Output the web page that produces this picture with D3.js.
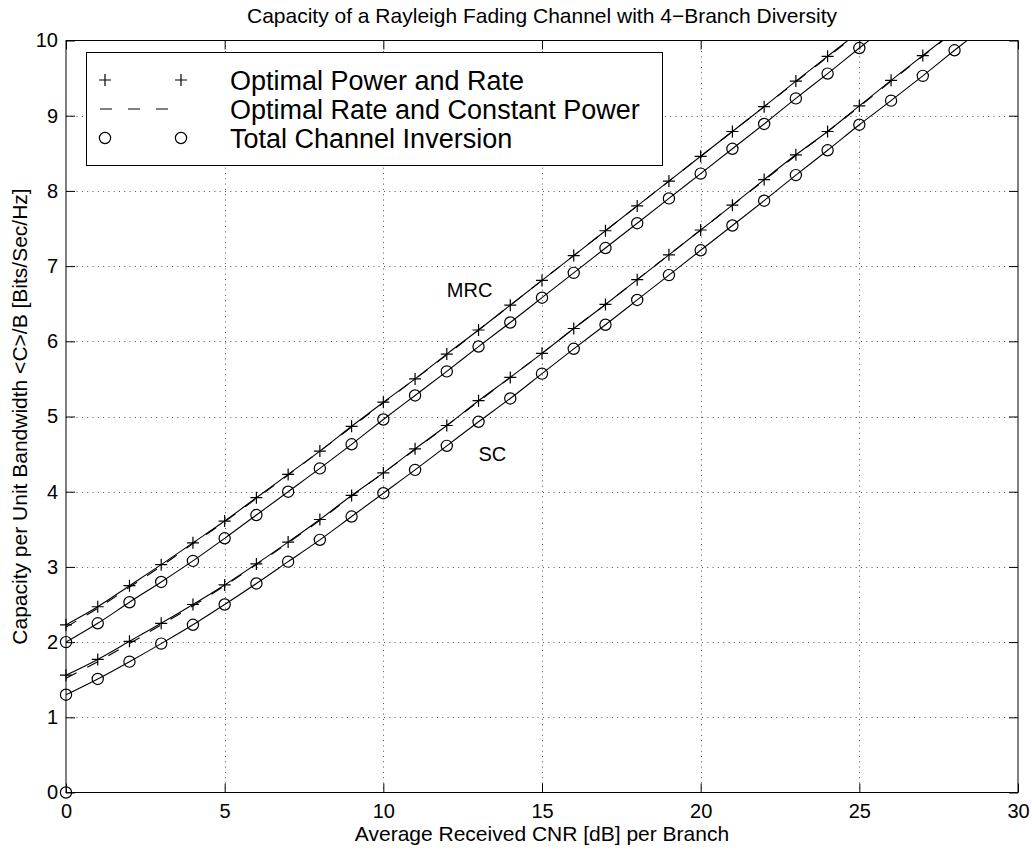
<!DOCTYPE html>
<html>
<head>
<meta charset="utf-8">
<script src="https://cdn.jsdelivr.net/npm/d3@7"></script>
<style>
  html, body { margin: 0; padding: 0; background: #fff; }
  svg { display: block; }
  text { font-family: "Liberation Sans", Arial, Helvetica, sans-serif; fill: #000; }
</style>
</head>
<body>
<svg id="chart" width="1032" height="852"></svg>
<script>
// ---------------- DATA ----------------
const chartTitle = "Capacity of a Rayleigh Fading Channel with 4\u2212Branch Diversity";
const xLabel = "Average Received CNR [dB] per Branch";
const yLabel = "Capacity per Unit Bandwidth <C>/B [Bits/Sec/Hz]";
const xTicks = [0, 5, 10, 15, 20, 25, 30];
const yTicks = [0, 1, 2, 3, 4, 5, 6, 7, 8, 9, 10];
const legendLabels = ["Optimal Power and Rate", "Optimal Rate and Constant Power", "Total Channel Inversion"];

// MRC: x = 0..26 dB
const mrcX = [0,1,2,3,4,5,6,7,8,9,10,11,12,13,14,15,16,17,18,19,20,21,22,23,24,25,26];
const mrcOptPowerRate = [2.23,2.47,2.75,3.03,3.32,3.61,3.92,4.23,4.54,4.87,5.19,5.50,5.83,6.15,6.48,6.81,7.14,7.47,7.80,8.13,8.46,8.79,9.12,9.46,9.79,10.12,10.45];
const mrcOptRateConst = [2.20,2.45,2.73,3.01,3.31,3.60,3.91,4.22,4.54,4.86,5.18,5.50,5.82,6.15,6.48,6.81,7.14,7.47,7.80,8.13,8.46,8.79,9.12,9.45,9.78,10.11,10.44];
const mrcInversion = [2.00,2.25,2.53,2.80,3.08,3.38,3.69,4.00,4.31,4.63,4.96,5.28,5.60,5.93,6.25,6.58,6.91,7.24,7.57,7.90,8.23,8.56,8.89,9.23,9.56,9.90,10.23];

// SC: x = 0..29 dB
const scX = [0,1,2,3,4,5,6,7,8,9,10,11,12,13,14,15,16,17,18,19,20,21,22,23,24,25,26,27,28,29];
const scOptPowerRate = [1.56,1.77,2.01,2.25,2.50,2.76,3.04,3.33,3.63,3.95,4.25,4.57,4.88,5.21,5.52,5.84,6.17,6.49,6.82,7.15,7.48,7.81,8.15,8.48,8.79,9.13,9.47,9.80,10.13,10.46];
const scOptRateConst = [1.52,1.74,1.98,2.23,2.48,2.75,3.03,3.32,3.62,3.94,4.25,4.56,4.88,5.20,5.52,5.84,6.17,6.49,6.82,7.15,7.48,7.81,8.14,8.47,8.79,9.12,9.46,9.79,10.12,10.45];
const scInversion = [1.30,1.51,1.74,1.98,2.23,2.50,2.78,3.07,3.36,3.67,3.98,4.29,4.61,4.93,5.24,5.57,5.90,6.22,6.55,6.88,7.21,7.54,7.87,8.21,8.54,8.88,9.20,9.53,9.87,10.20];

// stray marker at the origin
const extraCircleX = [0];
const extraCircleY = [0];

// annotations
const annoText = ["MRC", "SC"];
const annoX = [12.0, 13.0];
const annoY = [6.59, 4.41];

// ---------------- LAYOUT ----------------
const svg = d3.select("#chart");
const L = 66, R = 1018, T = 40.5, B = 792.5;
const x = d3.scaleLinear().domain([0, 30]).range([L, R]);
const y = d3.scaleLinear().domain([0, 10]).range([B, T]);

svg.append("rect").attr("width", 1032).attr("height", 852).attr("fill", "#fff");

svg.append("defs").append("clipPath").attr("id", "plotclip")
  .append("rect").attr("x", L).attr("y", T).attr("width", R - L).attr("height", B - T);

// grid
const grid = svg.append("g").attr("stroke", "#555").attr("stroke-width", 1).attr("stroke-dasharray", "1,4.3");
grid.selectAll(".gx").data(xTicks.filter(d => d > 0 && d < 30)).enter().append("line")
  .attr("x1", d => Math.round(x(d)) + 0.5).attr("x2", d => Math.round(x(d)) + 0.5)
  .attr("y1", T).attr("y2", B);
grid.selectAll(".gy").data(yTicks.filter(d => d > 0 && d < 10)).enter().append("line")
  .attr("y1", d => Math.round(y(d)) + 0.5).attr("y2", d => Math.round(y(d)) + 0.5)
  .attr("x1", L).attr("x2", R);

// axes via d3 axis generators
const tickLen = 9;
const fmt = d3.format("d");
const xAxis = svg.append("g").attr("transform", `translate(0,${B})`)
  .call(d3.axisBottom(x).tickValues(xTicks).tickSize(-tickLen).tickPadding(11).tickFormat(fmt));
const xAxisTop = svg.append("g").attr("transform", `translate(0,${T})`)
  .call(d3.axisTop(x).tickValues(xTicks).tickSize(-tickLen).tickFormat(""));
const yAxis = svg.append("g").attr("transform", `translate(${L},0)`)
  .call(d3.axisLeft(y).tickValues(yTicks).tickSize(-tickLen).tickPadding(8).tickFormat(fmt));
const yAxisR = svg.append("g").attr("transform", `translate(${R},0)`)
  .call(d3.axisRight(y).tickValues(yTicks).tickSize(-tickLen).tickFormat(""));
[xAxis, xAxisTop, yAxis, yAxisR].forEach(g => {
  g.selectAll(".domain").remove();
  g.selectAll("line").attr("stroke", "#000").attr("stroke-width", 1);
  g.selectAll("text").attr("font-size", 20).attr("font-family", '"Liberation Sans", Arial, sans-serif').attr("fill", "#000");
});

// box
svg.append("rect").attr("x", L).attr("y", T).attr("width", R - L).attr("height", B - T)
  .attr("fill", "none").attr("stroke", "#000").attr("stroke-width", 1);

// ---------------- SERIES ----------------
const plot = svg.append("g").attr("clip-path", "url(#plotclip)");
const lineGen = d3.line().x(d => x(d[0])).y(d => y(d[1])).curve(d3.curveMonotoneX);
const zip = (xs, ys) => xs.map((v, i) => [v, ys[i]]);

const series = [
  { xs: mrcX, ys: mrcOptPowerRate, dash: null, marker: "plus" },
  { xs: mrcX, ys: mrcOptRateConst, dash: "12,12", marker: null },
  { xs: mrcX, ys: mrcInversion, dash: null, marker: "circle" },
  { xs: scX, ys: scOptPowerRate, dash: null, marker: "plus" },
  { xs: scX, ys: scOptRateConst, dash: "12,12", marker: null },
  { xs: scX, ys: scInversion, dash: null, marker: "circle" }
];

const plusSize = 6, circR = 5.6;
function drawMarker(g, type, px, py) {
  if (type === "plus") {
    g.append("path").attr("d", `M${px - plusSize},${py}H${px + plusSize}M${px},${py - plusSize}V${py + plusSize}`)
      .attr("stroke", "#000").attr("stroke-width", 1.2).attr("fill", "none");
  } else if (type === "circle") {
    g.append("circle").attr("cx", px).attr("cy", py).attr("r", circR)
      .attr("stroke", "#000").attr("stroke-width", 1.2).attr("fill", "none");
  }
}

series.forEach(s => {
  const pts = zip(s.xs, s.ys);
  plot.append("path").datum(pts).attr("d", lineGen)
    .attr("fill", "none").attr("stroke", "#000").attr("stroke-width", 1.1)
    .attr("stroke-dasharray", s.dash);
});
series.forEach(s => {
  if (!s.marker) return;
  zip(s.xs, s.ys).filter(p => p[1] <= 10).forEach(p => drawMarker(svg, s.marker, x(p[0]), y(p[1])));
});
extraCircleX.forEach((v, i) => drawMarker(svg, "circle", x(v), y(extraCircleY[i])));

// annotations
annoText.forEach((t, i) => {
  svg.append("text").attr("x", x(annoX[i])).attr("y", y(annoY[i])).attr("font-size", 20).text(t);
});

// ---------------- TEXTS ----------------
svg.append("text").attr("x", (L + R) / 2).attr("y", 22.5).attr("text-anchor", "middle")
  .attr("font-size", 21).text(chartTitle);
svg.append("text").attr("x", (L + R) / 2).attr("y", 841).attr("text-anchor", "middle")
  .attr("font-size", 21).text(xLabel);
svg.append("text").attr("transform", `translate(27,${(T + B) / 2}) rotate(-90)`).attr("text-anchor", "middle")
  .attr("font-size", 21).text(yLabel);

// ---------------- LEGEND ----------------
const lg = svg.append("g");
lg.append("rect").attr("x", 86.5).attr("y", 52.5).attr("width", 576).attr("height", 113)
  .attr("fill", "#fff").attr("stroke", "#000").attr("stroke-width", 1);
const rowY = [80, 109, 138];
const legendMarkers = ["plus", null, "circle"];
const legendDash = [null, "12,16", null];
legendLabels.forEach((lab, i) => {
  if (legendDash[i]) {
    lg.append("line").attr("x1", 100).attr("x2", 169).attr("y1", rowY[i]).attr("y2", rowY[i])
      .attr("stroke", "#000").attr("stroke-width", 1.1).attr("stroke-dasharray", legendDash[i]);
  }
  if (legendMarkers[i]) {
    drawMarker(lg, legendMarkers[i], 105, rowY[i]);
    drawMarker(lg, legendMarkers[i], 181, rowY[i]);
  }
  lg.append("text").attr("x", 230).attr("y", rowY[i] + 9.5).attr("font-size", 27).text(lab);
});
</script>
</body>
</html>
